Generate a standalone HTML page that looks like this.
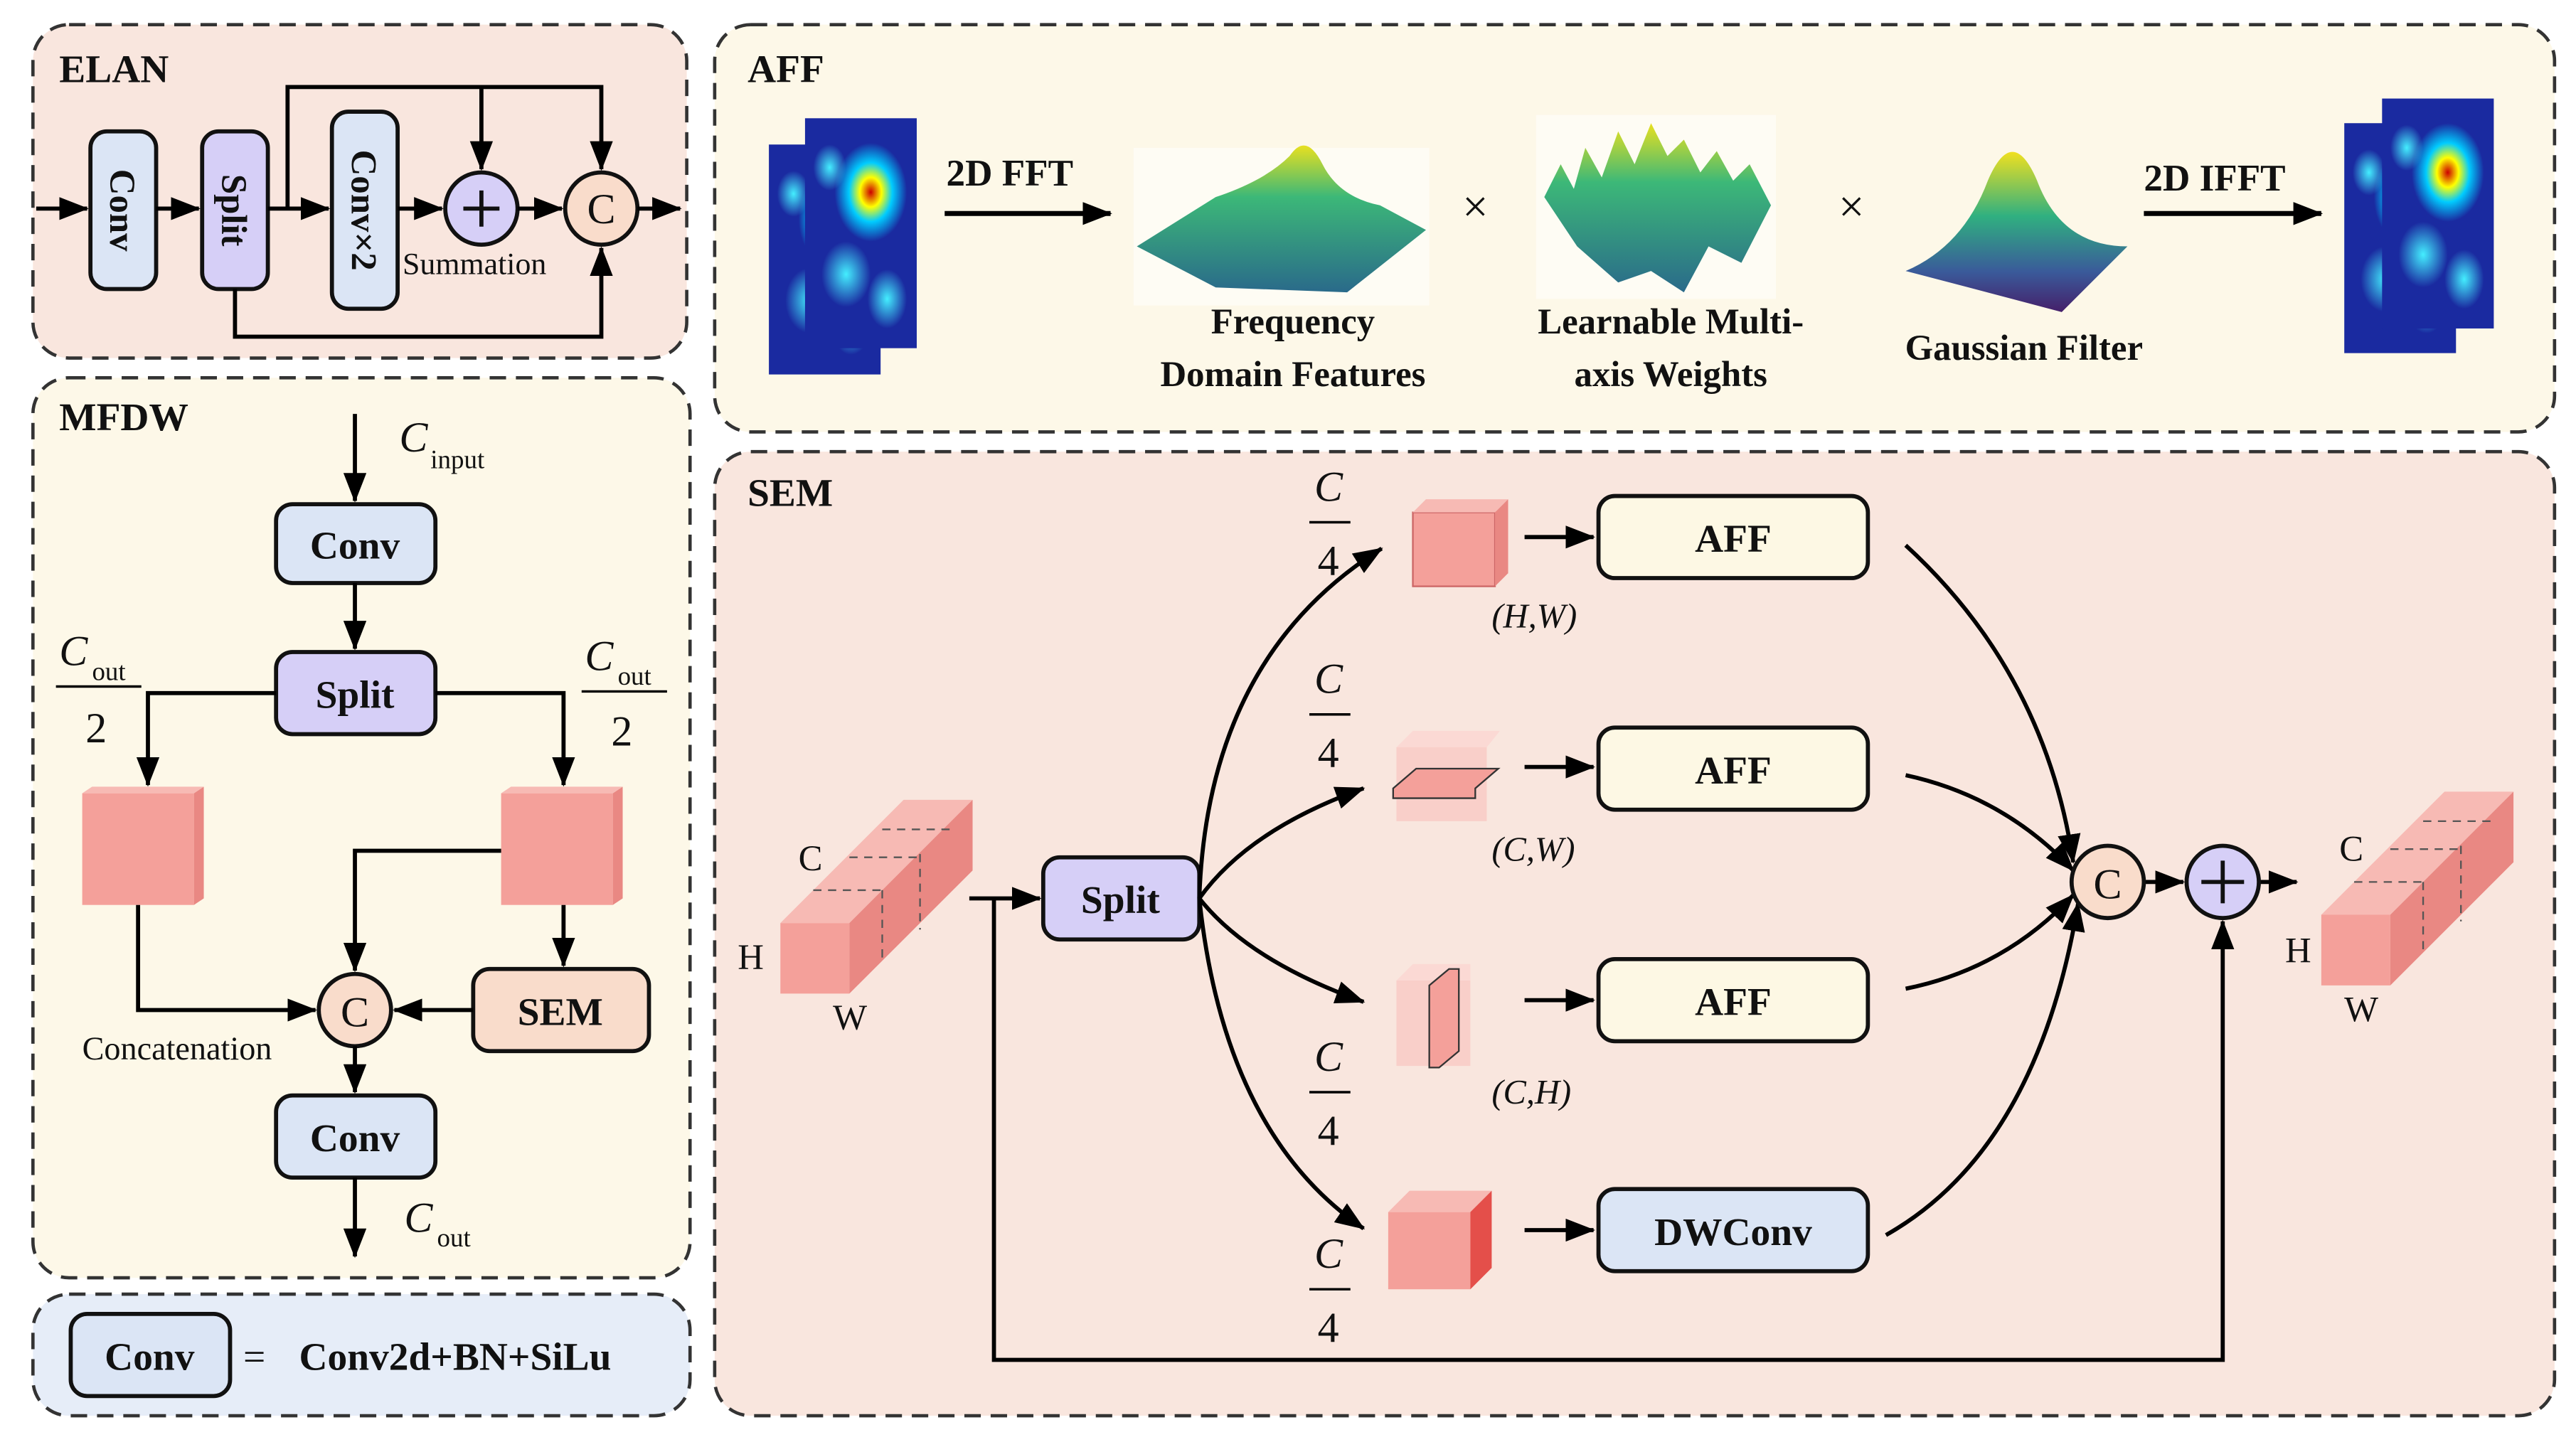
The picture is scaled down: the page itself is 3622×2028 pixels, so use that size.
<!DOCTYPE html>
<html><head><meta charset="utf-8"><style>
html,body{margin:0;padding:0;background:#fff;}
svg{display:block;}
text{font-family:"Liberation Serif",serif;fill:#111;}
.b{font-weight:bold;}
</style></head><body>
<svg width="3622" height="2028" viewBox="0 0 1568 878" xmlns="http://www.w3.org/2000/svg">
<defs>
<marker id="a" markerWidth="8" markerHeight="8" refX="7" refY="4" orient="auto" markerUnits="userSpaceOnUse" viewBox="0 0 8 8"><path d="M0,0 L8,4 L0,8 z" fill="#000"/></marker>
<marker id="A" markerWidth="18" markerHeight="14" refX="17" refY="7" orient="auto" markerUnits="userSpaceOnUse"><path d="M0,0 L18,7 L0,14 z" fill="#000"/></marker>
<radialGradient id="hot" cx="50%" cy="50%" r="50%"><stop offset="0" stop-color="#c00"/><stop offset="0.3" stop-color="#ff0"/><stop offset="0.6" stop-color="#0cf"/><stop offset="1" stop-color="#0cf" stop-opacity="0"/></radialGradient>
<radialGradient id="cy" cx="50%" cy="50%" r="50%"><stop offset="0" stop-color="#4ef"/><stop offset="1" stop-color="#4ef" stop-opacity="0"/></radialGradient>
<linearGradient id="surf" x1="0" y1="0" x2="0" y2="1"><stop offset="0" stop-color="#e8e020"/><stop offset="0.35" stop-color="#3cb878"/><stop offset="1" stop-color="#2a6a8a"/></linearGradient>
<linearGradient id="gauss" x1="0" y1="0" x2="0" y2="1"><stop offset="0" stop-color="#f0e020"/><stop offset="0.4" stop-color="#30b080"/><stop offset="0.75" stop-color="#3a5a9a"/><stop offset="1" stop-color="#45206a"/></linearGradient>
<g id="heat">
<rect x="0" y="0" width="68" height="140" fill="#1a2aa0"/>
<ellipse cx="40" cy="45" rx="22" ry="30" fill="url(#hot)"/>
<ellipse cx="25" cy="95" rx="15" ry="20" fill="url(#cy)"/>
<ellipse cx="50" cy="110" rx="12" ry="18" fill="url(#cy)"/>
<ellipse cx="15" cy="30" rx="10" ry="14" fill="url(#cy)"/>
</g>
</defs>

<!-- panels -->
<g stroke="#333" stroke-width="2" stroke-dasharray="10,6">
<rect x="20" y="15" width="398" height="203" rx="22" fill="#f9e6de"/>
<rect x="20" y="230" width="400" height="548" rx="22" fill="#fdf8e8"/>
<rect x="20" y="788" width="400" height="74" rx="22" fill="#e6edf8"/>
<rect x="435" y="15" width="1120" height="248" rx="22" fill="#fdf8e8"/>
<rect x="435" y="275" width="1120" height="587" rx="22" fill="#f9e6de"/>
</g>

<!-- ELAN -->
<text x="36" y="50" font-size="24" class="b">ELAN</text>
<g stroke="#111" stroke-width="2.5">
<rect x="55" y="80" width="40" height="96" rx="10" fill="#dbe5f5"/>
<rect x="123" y="80" width="40" height="96" rx="10" fill="#d6cff7"/>
<rect x="202" y="68" width="40" height="120" rx="10" fill="#dbe5f5"/>
<circle cx="293" cy="127" r="22" fill="#d6cff7"/>
<circle cx="366" cy="127" r="22" fill="#f9dccb"/>
</g>
<path d="M282,127 H304 M293,116 V138" stroke="#111" stroke-width="2.5"/>
<text x="366" y="136" font-size="26" text-anchor="middle">C</text>
<text transform="translate(67,128) rotate(90)" font-size="22" class="b" text-anchor="middle">Conv</text>
<text transform="translate(135,128) rotate(90)" font-size="22" class="b" text-anchor="middle">Split</text>
<text transform="translate(214,128) rotate(90)" font-size="22" class="b" text-anchor="middle">Conv×2</text>
<g stroke="#000" stroke-width="2.5" fill="none" marker-end="url(#A)">
<path d="M22,127 H53"/><path d="M95,127 H121"/><path d="M163,127 H200"/>
<path d="M242,127 H269"/><path d="M315,127 H342"/><path d="M388,127 H414"/>
<path d="M175,127 V53 H366 V103"/><path d="M293,53 V103"/>
<path d="M143,176 V205 H366 V151"/>
</g>
<text x="245" y="167" font-size="19">Summation</text>

<!-- MFDW -->
<text x="36" y="262" font-size="24" class="b">MFDW</text>
<text x="243" y="275" font-size="26" font-style="italic">C</text><text x="262" y="285" font-size="16">input</text>
<g stroke="#111" stroke-width="2.5">
<rect x="168" y="307" width="97" height="48" rx="10" fill="#dbe5f5"/>
<rect x="168" y="397" width="97" height="50" rx="10" fill="#d6cff7"/>
<rect x="288" y="590" width="107" height="50" rx="10" fill="#f9dccb"/>
<rect x="168" y="667" width="97" height="50" rx="10" fill="#dbe5f5"/>
<circle cx="216" cy="615" r="22" fill="#f9dccb"/>
</g>
<text x="216" y="340" font-size="24" class="b" text-anchor="middle">Conv</text>
<text x="216" y="431" font-size="24" class="b" text-anchor="middle">Split</text>
<text x="341" y="624" font-size="24" class="b" text-anchor="middle">SEM</text>
<text x="216" y="701" font-size="24" class="b" text-anchor="middle">Conv</text>
<text x="216" y="625" font-size="26" text-anchor="middle">C</text>
<!-- pink squares -->
<rect x="50" y="483" width="68" height="68" fill="#f4a09a"/><polygon points="118,483 124,479 124,547 118,551" fill="#e98883"/><polygon points="50,483 56,479 124,479 118,483" fill="#f7bab4"/>
<rect x="305" y="483" width="68" height="68" fill="#f4a09a"/><polygon points="373,483 379,479 379,547 373,551" fill="#e98883"/><polygon points="305,483 311,479 379,479 373,483" fill="#f7bab4"/>
<g stroke="#000" stroke-width="2.5" fill="none" marker-end="url(#A)">
<path d="M216,252 V305"/><path d="M216,355 V395"/>
<path d="M168,422 H90 V478"/><path d="M265,422 H343 V478"/>
<path d="M305,518 H216 V591"/><path d="M343,551 V588"/>
<path d="M288,615 H240"/><path d="M84,551 V615 H192"/>
<path d="M216,637 V665"/><path d="M216,717 V765"/>
</g>
<text x="50" y="645" font-size="20">Concatenation</text>
<text x="36" y="405" font-size="26" font-style="italic">C</text><text x="56" y="414" font-size="16">out</text>
<line x1="34" y1="418" x2="86" y2="418" stroke="#000" stroke-width="1.5"/><text x="52" y="452" font-size="26">2</text>
<text x="356" y="408" font-size="26" font-style="italic">C</text><text x="376" y="417" font-size="16">out</text>
<line x1="354" y1="421" x2="406" y2="421" stroke="#000" stroke-width="1.5"/><text x="372" y="454" font-size="26">2</text>
<text x="246" y="750" font-size="26" font-style="italic">C</text><text x="266" y="759" font-size="16">out</text>

<!-- legend -->
<rect x="43" y="800" width="97" height="50" rx="10" fill="#dbe5f5" stroke="#111" stroke-width="2.5"/>
<text x="91" y="834" font-size="24" class="b" text-anchor="middle">Conv</text>
<text x="148" y="834" font-size="24">=</text>
<text x="182" y="834" font-size="24" class="b">Conv2d+BN+SiLu</text>

<!-- AFF -->
<text x="455" y="50" font-size="24" class="b">AFF</text>
<use href="#heat" x="468" y="88"/><use href="#heat" x="490" y="72"/>
<text x="576" y="113" font-size="23" class="b">2D FFT</text>
<path d="M575,130 H676" stroke="#000" stroke-width="3" marker-end="url(#A)"/>
<rect x="690" y="90" width="180" height="96" fill="#fff" opacity="0.5"/>
<path d="M692,150 L740,120 Q770,110 785,95 Q795,80 805,100 Q815,120 840,125 L868,140 L820,178 L740,175 Z" fill="url(#surf)"/>
<text x="787" y="203" font-size="22" class="b" text-anchor="middle">Frequency</text>
<text x="787" y="235" font-size="22" class="b" text-anchor="middle">Domain Features</text>
<text x="898" y="135" font-size="28" text-anchor="middle">×</text>
<rect x="935" y="70" width="146" height="112" fill="#fff" opacity="0.5"/>
<path d="M940,120 L950,100 L958,115 L965,90 L975,108 L985,80 L995,100 L1005,75 L1015,95 L1025,85 L1035,105 L1045,92 L1055,110 L1065,100 L1078,125 L1060,160 L1040,150 L1025,178 L1005,165 L985,172 L960,150 Z" fill="url(#surf)"/>
<text x="1017" y="203" font-size="22" class="b" text-anchor="middle">Learnable Multi-</text>
<text x="1017" y="235" font-size="22" class="b" text-anchor="middle">axis Weights</text>
<text x="1127" y="135" font-size="28" text-anchor="middle">×</text>
<path d="M1160,165 Q1195,150 1210,110 Q1225,75 1240,110 Q1255,150 1295,150 L1255,190 Q1210,178 1160,165 Z" fill="url(#gauss)"/>
<text x="1232" y="219" font-size="22" class="b" text-anchor="middle">Gaussian Filter</text>
<text x="1305" y="116" font-size="23" class="b">2D IFFT</text>
<path d="M1305,130 H1413" stroke="#000" stroke-width="3" marker-end="url(#A)"/>
<use href="#heat" x="1427" y="75"/><use href="#heat" x="1450" y="60"/>

<!-- SEM -->
<text x="455" y="308" font-size="24" class="b">SEM</text>
<!-- input cube -->
<polygon points="475,562 517,562 517,605 475,605" fill="#f4a09a"/>
<polygon points="475,562 550,487 592,487 517,562" fill="#f7bab4"/>
<polygon points="517,562 592,487 592,530 517,605" fill="#e98883"/>
<path d="M495,542 H537 M537,542 V586 M517,522 H560 M560,520 V566 M537,505 H580" stroke="#555" stroke-width="1" stroke-dasharray="5,4" fill="none"/>
<text x="486" y="530" font-size="22">C</text><text x="449" y="590" font-size="22">H</text><text x="507" y="627" font-size="22">W</text>
<rect x="635" y="522" width="95" height="50" rx="10" fill="#d6cff7" stroke="#111" stroke-width="2.5"/>
<text x="682" y="556" font-size="24" class="b" text-anchor="middle">Split</text>
<g stroke="#000" stroke-width="2.5" fill="none" marker-end="url(#A)">
<path d="M590,547 H633"/>
<path d="M730,547 Q735,400 841,334"/>
<path d="M730,547 Q760,505 830,480"/>
<path d="M730,547 Q760,585 830,610"/>
<path d="M730,547 Q745,690 830,748"/>
<path d="M928,327 H970"/><path d="M928,467 H970"/><path d="M928,609 H970"/><path d="M928,749 H970"/>
<path d="M1160,332 Q1245,410 1262,525"/>
<path d="M1160,472 Q1220,485 1262,530"/>
<path d="M1160,602 Q1220,590 1262,545"/>
<path d="M1148,752 Q1240,700 1265,550"/>
<path d="M1305,537 H1329"/><path d="M1375,537 H1398"/>
<path d="M605,547 V828 H1353 V561"/>
</g>
<!-- fractions -->
<g font-size="26">
<text x="800" y="305" font-style="italic">C</text><line x1="797" y1="318" x2="822" y2="318" stroke="#000" stroke-width="1.5"/><text x="802" y="350">4</text>
<text x="800" y="422" font-style="italic">C</text><line x1="797" y1="435" x2="822" y2="435" stroke="#000" stroke-width="1.5"/><text x="802" y="467">4</text>
<text x="800" y="652" font-style="italic">C</text><line x1="797" y1="665" x2="822" y2="665" stroke="#000" stroke-width="1.5"/><text x="802" y="697">4</text>
<text x="800" y="772" font-style="italic">C</text><line x1="797" y1="785" x2="822" y2="785" stroke="#000" stroke-width="1.5"/><text x="802" y="817">4</text>
</g>
<!-- small cubes -->
<g>
<rect x="860" y="312" width="50" height="45" fill="#f4a09a" stroke="#c66" stroke-width="1"/>
<polygon points="860,312 868,304 918,304 910,312" fill="#f7bab4"/><polygon points="910,312 918,304 918,349 910,357" fill="#e98883"/>
<rect x="850" y="455" width="55" height="45" fill="#f9cfc9"/><polygon points="850,455 860,445 913,445 905,455" fill="#fbd9d4"/>
<polygon points="848,480 862,468 912,468 898,480 898,486 848,486" fill="#f4a09a" stroke="#333" stroke-width="1"/>
<rect x="850" y="597" width="45" height="52" fill="#f9cfc9"/><polygon points="850,597 860,587 895,587 895,597" fill="#fbd9d4"/>
<polygon points="870,600 882,590 888,590 888,640 876,650 870,650" fill="#f4a09a" stroke="#333" stroke-width="1"/>
<rect x="845" y="738" width="50" height="47" fill="#f4a09a"/>
<polygon points="845,738 858,725 908,725 895,738" fill="#f7bab4"/><polygon points="895,738 908,725 908,772 895,785" fill="#e44f4a"/>
</g>
<g font-size="21" font-style="italic">
<text x="908" y="382">(H,W)</text><text x="908" y="524">(C,W)</text><text x="908" y="672">(C,H)</text>
</g>
<g stroke="#111" stroke-width="2.5">
<rect x="973" y="302" width="164" height="50" rx="10" fill="#fdf8e4"/>
<rect x="973" y="443" width="164" height="50" rx="10" fill="#fdf8e4"/>
<rect x="973" y="584" width="164" height="50" rx="10" fill="#fdf8e4"/>
<rect x="973" y="724" width="164" height="50" rx="10" fill="#dbe5f5"/>
<circle cx="1283" cy="537" r="22" fill="#f9dccb"/>
<circle cx="1353" cy="537" r="22" fill="#d6cff7"/>
</g>
<g font-size="24" class="b" text-anchor="middle">
<text x="1055" y="336">AFF</text><text x="1055" y="477">AFF</text><text x="1055" y="618">AFF</text><text x="1055" y="758">DWConv</text>
</g>
<text x="1283" y="547" font-size="26" text-anchor="middle">C</text>
<path d="M1340,537 H1366 M1353,524 V550" stroke="#111" stroke-width="2.5"/>
<!-- output cube -->
<polygon points="1413,557 1455,557 1455,600 1413,600" fill="#f4a09a"/>
<polygon points="1413,557 1488,482 1530,482 1455,557" fill="#f7bab4"/>
<polygon points="1455,557 1530,482 1530,525 1455,600" fill="#e98883"/>
<path d="M1433,537 H1475 M1475,537 V581 M1455,517 H1498 M1498,515 V561 M1475,500 H1518" stroke="#555" stroke-width="1" stroke-dasharray="5,4" fill="none"/>
<text x="1424" y="524" font-size="22">C</text><text x="1391" y="586" font-size="22">H</text><text x="1427" y="622" font-size="22">W</text>
</svg>
</body></html>
